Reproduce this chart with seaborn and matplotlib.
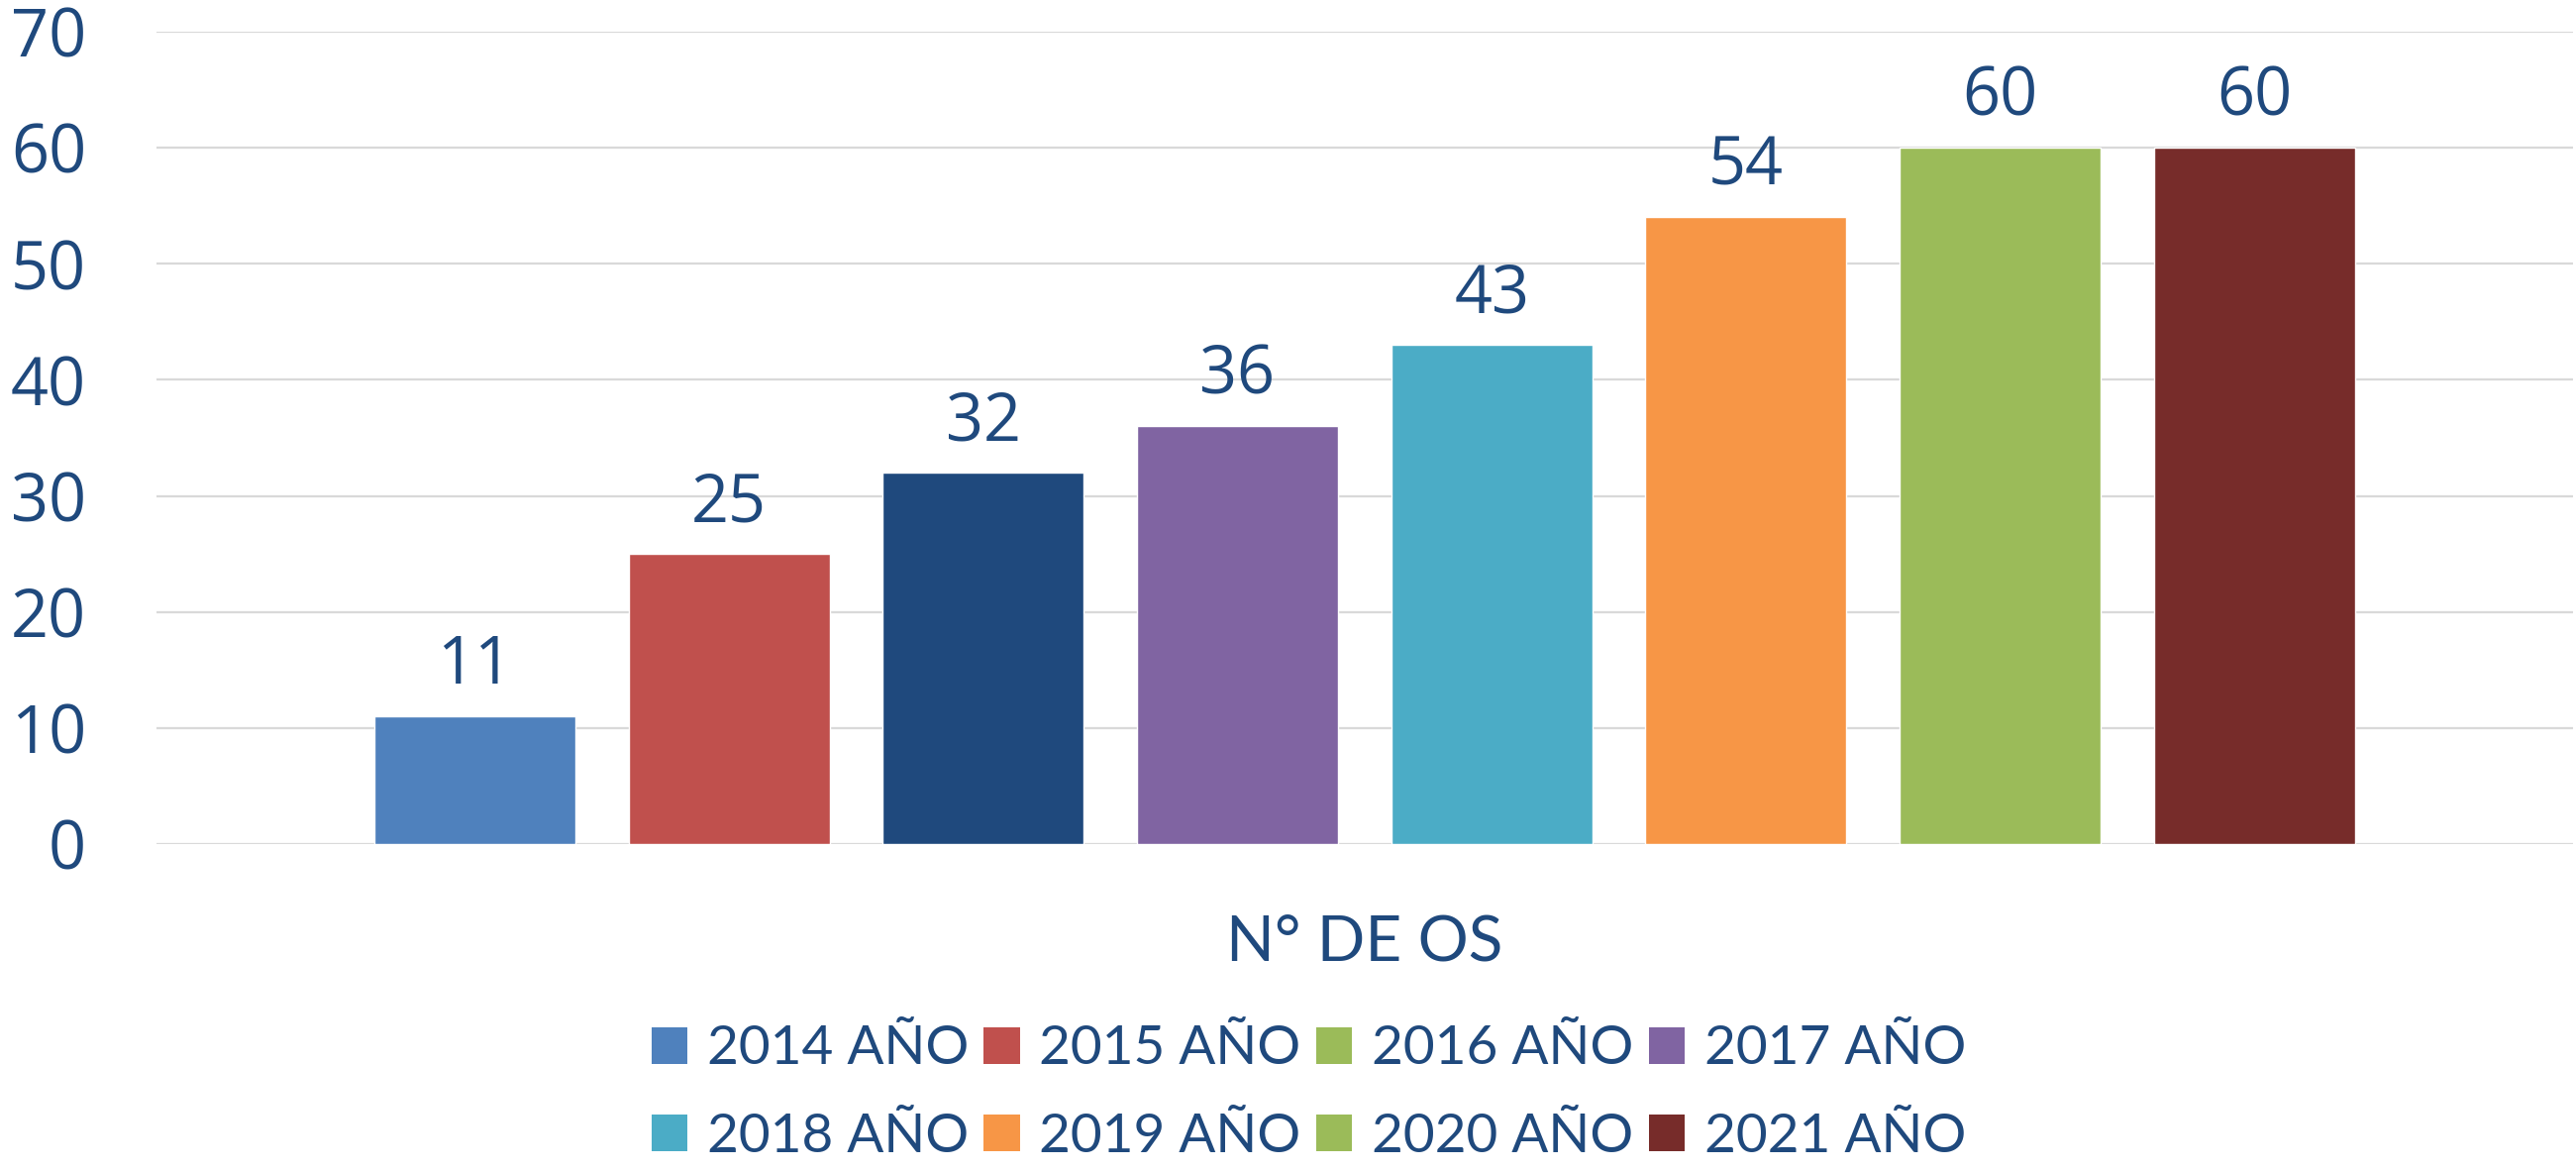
import pandas as pd
import seaborn as sns
from matplotlib import pyplot as plt
from matplotlib.patches import Patch

category = ["N° DE OS"]
years = ["2014 AÑO", "2015 AÑO", "2016 AÑO", "2017 AÑO",
         "2018 AÑO", "2019 AÑO", "2020 AÑO", "2021 AÑO"]
values = [11, 25, 32, 36, 43, 54, 60, 60]
bar_colors = ["#4F81BD", "#C0504D", "#1F497D", "#8064A2",
              "#4BACC6", "#F79646", "#9BBB59", "#772C2A"]
# legend swatches as they appear in the original (2016 shows green)
legend_colors = ["#4F81BD", "#C0504D", "#9BBB59", "#8064A2",
                 "#4BACC6", "#F79646", "#9BBB59", "#772C2A"]
yticks = [0, 10, 20, 30, 40, 50, 60, 70]

txt = "#1F497D"

df = pd.DataFrame({"cat": category * len(years), "year": years, "value": values})

sns.set_style("white")
plt.rcParams['font.family'] = ['Open Sans', 'DejaVu Sans']

fig = plt.figure(figsize=(26.01, 11.81), dpi=100)
ax = fig.add_axes([0.0607, 0.2786, 0.9381, 0.6943])

sns.barplot(data=df, x="cat", y="value", hue="year", palette=bar_colors,
            width=0.8416, gap=0.209, legend=False, ax=ax, saturation=1, zorder=3)

for c in ax.containers:
    ax.bar_label(c, padding=12, fontsize=48, color=txt, family='Open Sans')

ax.set_ylim(0, 70)
ax.set_xlim(-0.5, 0.5)
ax.set_yticks(yticks)
ax.yaxis.grid(True, color="#D9D9D9", linewidth=1.6, zorder=0)
ax.set_axisbelow(True)
for s in ax.spines.values():
    s.set_visible(False)
ax.tick_params(axis='y', length=0, pad=51, labelsize=48, labelcolor=txt)
ax.tick_params(axis='x', length=0, pad=51, labelsize=46, labelcolor=txt)
for lab in ax.get_xticklabels():
    lab.set_family('Lato')
ax.set_xlabel("")
ax.set_ylabel("")

# matplotlib fills legend columns first, so reorder to read row by row
order = [0, 4, 1, 5, 2, 6, 3, 7]
handles = [Patch(facecolor=legend_colors[i], edgecolor='none') for i in order]
labels = [years[i] for i in order]
leg = fig.legend(handles, labels, loc='center', bbox_to_anchor=(0.508, 0.066),
                 ncol=4, frameon=False, handlelength=0.66,
                 handleheight=0.66, handletextpad=0.36, columnspacing=0.28,
                 labelspacing=0.72, borderpad=0, prop={'family': 'Lato', 'size': 39.5})
for t in leg.get_texts():
    t.set_color(txt)

fig.savefig("out.png", dpi=100)
